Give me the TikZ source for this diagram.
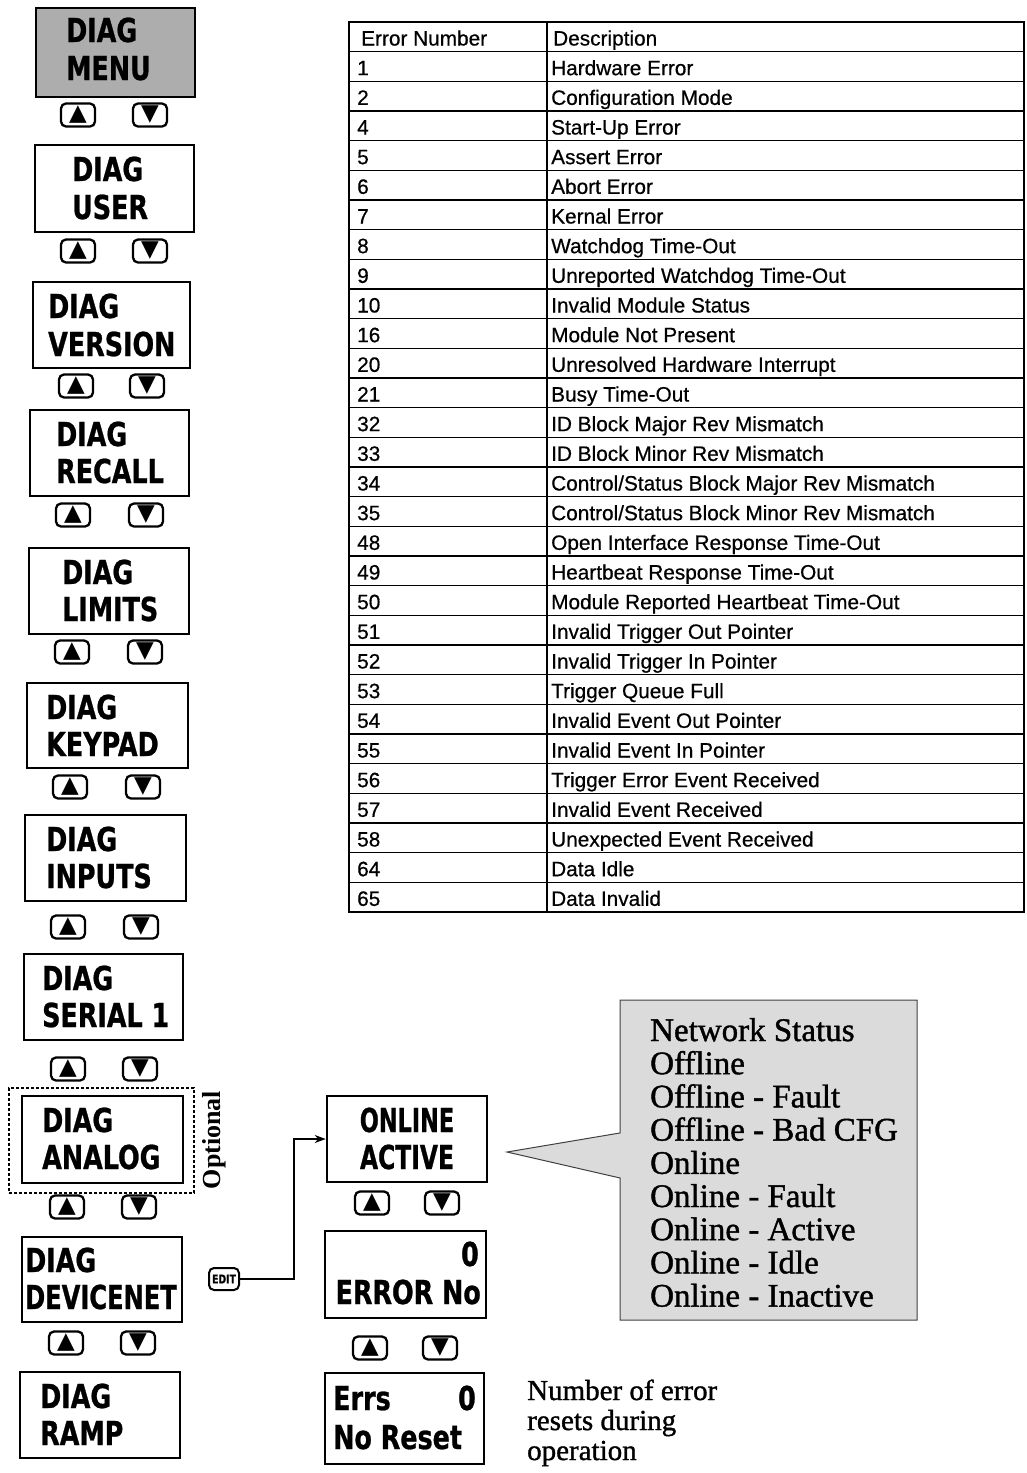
\documentclass[tikz,border=0pt]{standalone}
\usepackage{graphicx}
\usepackage{fontspec}
\setmainfont{Liberation Serif}
\newfontfamily\lcdfont[FakeStretch=0.77,FakeBold=0.8]{DejaVu Sans}
\newfontfamily\tabfont[FakeBold=0.6]{Liberation Sans}
\newfontfamily\symfont{DejaVu Sans}
\newfontfamily\scanserif[FakeBold=1.2]{Liberation Serif}
\usetikzlibrary{shapes.callouts,arrows.meta,fit}
\begin{document}
\begin{tikzpicture}[x=1pt,y=-1pt,
  lcdbox/.style={draw, line width=2.6pt, inner sep=0pt},
  lcdtxt/.style={font=\lcdfont\bfseries\fontsize{33}{33}\selectfont, inner sep=0pt, anchor=base west},
  btn/.style={draw, line width=2.3pt, rounded corners=5pt, minimum width=34pt, minimum height=23pt, inner sep=0pt, font=\symfont\fontsize{23}{23}\selectfont},
  tabtxt/.style={font=\tabfont\fontsize{20.8}{20.8}\selectfont, inner sep=0pt, anchor=base west},
  tabline/.style={line width=1.4pt},
  sttxt/.style={font=\scanserif\fontsize{33}{33}\selectfont, inner sep=0pt, anchor=base west},
  notetxt/.style={font=\scanserif\fontsize{29}{29}\selectfont, inner sep=0pt, anchor=base west},
]
\useasboundingbox (0,0) rectangle (1026,1473);

% ---------- left column of displays ----------
\node[lcdbox, fill=black!32, fit={(36,8) (195,97)}] (menu) {};
\node[lcdtxt] (menu1) at (66,42) {DIAG};
\node[lcdtxt] (menu2) at (66,80) {MENU};

\node[lcdbox, fit={(35,145) (194,232)}] (user) {};
\node[lcdtxt] (user1) at (72,181) {DIAG};
\node[lcdtxt] (user2) at (72,219) {USER};

\node[lcdbox, fit={(33,282) (190,368)}] (version) {};
\node[lcdtxt] (version1) at (48,318) {DIAG};
\node[lcdtxt] (version2) at (48,356) {VERSION};

\node[lcdbox, fit={(30,410) (189,496)}] (recall) {};
\node[lcdtxt] (recall1) at (56,446) {DIAG};
\node[lcdtxt] (recall2) at (56,483) {RECALL};

\node[lcdbox, fit={(29,548) (189,634)}] (limits) {};
\node[lcdtxt] (limits1) at (62,584) {DIAG};
\node[lcdtxt] (limits2) at (62,621) {LIMITS};

\node[lcdbox, fit={(27,683) (188,768)}] (keypad) {};
\node[lcdtxt] (keypad1) at (46,719) {DIAG};
\node[lcdtxt] (keypad2) at (46,756) {KEYPAD};

\node[lcdbox, fit={(25,815) (186,901)}] (inputs) {};
\node[lcdtxt] (inputs1) at (46,851) {DIAG};
\node[lcdtxt] (inputs2) at (46,888) {INPUTS};

\node[lcdbox, fit={(24,954) (183,1040)}] (serial) {};
\node[lcdtxt] (serial1) at (42,990) {DIAG};
\node[lcdtxt] (serial2) at (42,1027) {SERIAL 1};

\node[draw, densely dashed, line width=1.5pt, inner sep=0pt, fit={(9,1088) (194,1193)}] (opt) {};
\node[lcdbox, fit={(22,1096) (183,1183)}] (analog) {};
\node[lcdtxt] (analog1) at (42,1132) {DIAG};
\node[lcdtxt] (analog2) at (42,1169) {ANALOG};
\node[rotate=90, inner sep=0pt, font=\bfseries\fontsize{26}{26}\selectfont] (optl) at (214,1140) {Optional};

\node[lcdbox, fit={(22,1237) (182,1322)}] (devnet) {};
\node[lcdtxt] (devnet1) at (25,1272) {DIAG};
\node[lcdtxt] (devnet2) at (25,1309) {\scalebox{0.95}[1]{DEVICENET}};

\node[lcdbox, fit={(20,1372) (180,1458)}] (ramp) {};
\node[lcdtxt] (ramp1) at (40,1408) {DIAG};
\node[lcdtxt] (ramp2) at (40,1445) {RAMP};

% ---------- up / down keys ----------
\foreach \u/\d/\y [count=\k] in {78/150/115, 78/150/251, 76/147/386, 73/146/515, 72/145/652, 70/143/787, 68/141/927, 68/140/1069, 67/139/1207, 66/138/1343, 372/442/1203, 370/440/1348}{
  \node[btn] (up\k) at (\u,\y) {▲};
  \node[btn] (dn\k) at (\d,\y) {▼};
}

% ---------- DeviceNet sub-menu ----------
\node[draw, line width=2pt, rounded corners=5pt, minimum width=30pt, minimum height=22pt, inner sep=0pt,
  font=\lcdfont\bfseries\fontsize{12}{12}\selectfont] (edit) at (224,1279) {EDIT};

\node[lcdbox, fit={(327,1096) (487,1182)}] (online) {};
\node[lcdtxt, anchor=base] (online1) at (407,1132) {\scalebox{0.88}[1]{ONLINE}};
\node[lcdtxt, anchor=base] (online2) at (407,1169) {\scalebox{0.92}[1]{ACTIVE}};

\node[lcdbox, fit={(325,1231) (486,1318)}] (errno) {};
\node[lcdtxt, anchor=base east] (errno1) at (479,1266) {0};
\node[lcdtxt, anchor=base east] (errno2) at (481,1304) {ERROR No};

\node[lcdbox, fit={(325,1373) (484,1464)}] (errs) {};
\node[lcdtxt] (errs1) at (333,1410) {Errs};
\node[lcdtxt, anchor=base east] (errs2) at (476,1410) {0};
\node[lcdtxt] (errs3) at (333,1449) {No Reset};

\draw[line width=1.6pt, -{Stealth[length=11pt,width=8pt]}] (edit.east) -- ++(54,0) |- (online.west);

\node[notetxt] (note1) at (527,1400) {Number of error};
\node[notetxt] (note2) at (527,1430) {resets during};
\node[notetxt] (note3) at (527,1460) {operation};

% ---------- network status callout ----------
\node[rectangle callout, draw=black!75, line width=1pt, fill=black!14, minimum width=297pt, minimum height=320pt,
  inner sep=0pt, callout absolute pointer={(507,1152)}, callout pointer width=45pt] (status) at (768.5,1160) {};
\foreach \t [count=\k from 0] in {Network Status, Offline, Offline - Fault, Offline - Bad CFG, Online, Online - Fault, Online - Active, Online - Idle, Online - Inactive}{
  \node[sttxt] (st\k) at (650,{1041+33.2*\k}) {\t};
}

% ---------- error table ----------
\draw[tabline] (349,22) rectangle (1024,912);
\draw[tabline] (547,22) -- (547,912);
\foreach \i in {1,...,29}{
  \draw[tabline] (349,{22+29.667*\i}) -- (1024,{22+29.667*\i});
}
\node[tabtxt] (hnum) at (361,45.5) {Error Number};
\node[tabtxt] (hdesc) at (553,45.5) {Description};
\foreach \n/\d [count=\i] in {
  1/{Hardware Error}, 2/{Configuration Mode}, 4/{Start-Up Error}, 5/{Assert Error}, 6/{Abort Error},
  7/{Kernal Error}, 8/{Watchdog Time-Out}, 9/{Unreported Watchdog Time-Out}, 10/{Invalid Module Status},
  16/{Module Not Present}, 20/{Unresolved Hardware Interrupt}, 21/{Busy Time-Out},
  32/{ID Block Major Rev Mismatch}, 33/{ID Block Minor Rev Mismatch},
  34/{Control/Status Block Major Rev Mismatch}, 35/{Control/Status Block Minor Rev Mismatch},
  48/{Open Interface Response Time-Out}, 49/{Heartbeat Response Time-Out},
  50/{Module Reported Heartbeat Time-Out}, 51/{Invalid Trigger Out Pointer},
  52/{Invalid Trigger In Pointer}, 53/{Trigger Queue Full}, 54/{Invalid Event Out Pointer},
  55/{Invalid Event In Pointer}, 56/{Trigger Error Event Received}, 57/{Invalid Event Received},
  58/{Unexpected Event Received}, 64/{Data Idle}, 65/{Data Invalid}}{
  \node[tabtxt] (num\i) at (357,{22+29.667*\i+23.5}) {\n};
  \node[tabtxt] (desc\i) at (551,{22+29.667*\i+23.5}) {\d};
}
\end{tikzpicture}
\end{document}
